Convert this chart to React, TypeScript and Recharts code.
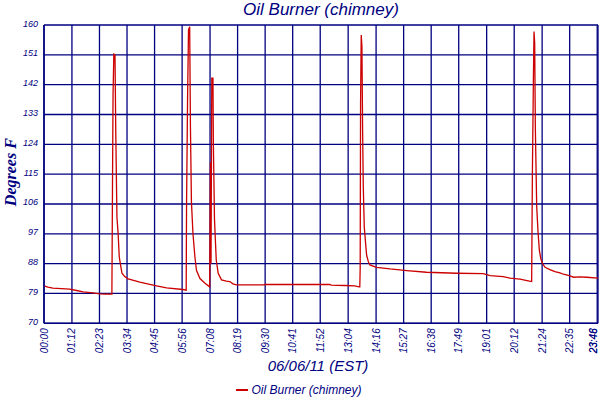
import React from 'react';
import { LineChart, Line, XAxis, YAxis, CartesianGrid, Legend } from 'recharts';

const chartTitle = 'Oil Burner (chimney)';
const xAxisTitle = '06/06/11 (EST)';
const yAxisTitle = 'Degrees F';
const seriesName = 'Oil Burner (chimney)';

// minutes since midnight
const times = [
  0, 10, 23, 66, 84, 101, 126, 144, 157, 175,
  176.5, 178, 180, 183, 185, 188, 191, 194, 198, 201, 208, 217, 247, 290, 316, 358, 366.5,
  367.5, 370, 372.5, 375.5, 377.5, 380, 384, 389, 393, 402, 415, 427,
  429, 430.5, 432.5, 435.5, 436.5, 439.5, 444, 449, 457.5, 470, 479, 487, 496, 565, 570, 608, 737, 740, 776, 801, 812, 814,
  815, 816, 817.7, 819.5, 821.2, 823, 825.5, 829, 831.5, 836, 840, 857, 892, 935, 986, 1064, 1132, 1150, 1184, 1201, 1227, 1248, 1257,
  1258.8, 1261.4, 1263.1, 1264.8, 1266.5, 1270, 1273.4, 1276.8, 1280.3, 1284.6, 1291.5, 1304, 1317, 1330, 1339, 1356, 1365, 1382, 1399, 1428,
];

// degrees F
const temps = [
  81.3, 80.9, 80.6, 80.3, 79.9, 79.5, 79.2, 78.9, 78.8, 78.8,
  110.4, 139, 151.2, 151, 127.5, 102, 97.2, 90, 87.1, 85.1, 84.1, 83.4, 82.4, 81.3, 80.7, 80.2, 80.0,
  106.7, 137, 158.5, 159.5, 128.9, 106.7, 97, 90, 86, 83.5, 82.1, 81.0,
  118.5, 88, 144, 144, 124.8, 101.2, 89.1, 85.1, 83.1, 82.7, 82.6, 81.9, 81.6, 81.6, 81.7, 81.7, 81.7, 81.5, 81.4, 81.3, 81.0, 81.0,
  86.6, 136.4, 157, 153.5, 128.9, 111.2, 99.1, 94.1, 90.6, 88.6, 87.6, 86.9, 86.4, 85.9, 85.4, 85.1, 85.0, 84.4, 84.1, 83.6, 83.3, 82.8, 82.6,
  114.2, 142.9, 158, 154.5, 128.9, 105.2, 97.6, 92.1, 89.6, 88.1, 86.9, 86.2, 85.6, 85.2, 84.8, 84.3, 83.9, 84.0, 83.9, 83.6,
];

const yTicks = [70, 79, 88, 97, 106, 115, 124, 133, 142, 151, 160];
const xTicks = [0, 72, 143, 214, 285, 356, 428, 499, 570, 641, 712, 784, 856, 927, 998, 1069, 1141, 1212, 1284, 1355, 1426, 1428];
const xTickLabels = [
  '00:00', '01:12', '02:23', '03:34', '04:45', '05:56', '07:08', '08:19', '09:30', '10:41', '11:52',
  '13:04', '14:16', '15:27', '16:38', '17:49', '19:01', '20:12', '21:24', '22:35', '23:46', '23:48',
];

const data = times.map((t, i) => ({ t, v: temps[i] }));

const NAVY = '#000080';
const RED = '#cc0000';
const SANS = '"Liberation Sans", Arial, sans-serif';

const XTick = (props: any) => {
  const { x, y, payload } = props;
  const idx = xTicks.indexOf(payload.value);
  const tx = Math.min(x, 593);
  return (
    <text
      x={0}
      y={0}
      transform={`translate(${tx},${y}) rotate(-90)`}
      textAnchor="end"
      dy={3.5}
      fontSize={10}
      fontStyle="italic"
      fill={NAVY}
      fontFamily={SANS}
    >
      {xTickLabels[idx]}
    </text>
  );
};

const YTick = (props: any) => {
  const { x, y, payload } = props;
  return (
    <text x={x} y={y} dy={1.5} textAnchor="end" fontSize={9} fontStyle="italic" fill={NAVY} fontFamily={SANS}>
      {payload.value}
    </text>
  );
};

const YLabel = (props: any) => {
  const vb = props.viewBox || {};
  const cx = vb.x + 16;
  const cy = vb.y + vb.height / 2 - 2;
  return (
    <text
      x={0}
      y={0}
      transform={`translate(${cx},${cy}) rotate(-90)`}
      textAnchor="middle"
      fontSize={16}
      fontWeight="bold"
      fontStyle="italic"
      fill={NAVY}
      fontFamily='"Liberation Serif", "Times New Roman", serif'
    >
      {yAxisTitle}
    </text>
  );
};

const XLabel = (props: any) => {
  const vb = props.viewBox || {};
  return (
    <text
      x={vb.x + vb.width / 2 - 3}
      y={vb.y + 47.5}
      textAnchor="middle"
      fontSize={15}
      fontStyle="italic"
      fill={NAVY}
      fontFamily={SANS}
    >
      {xAxisTitle}
    </text>
  );
};

const LegendContent = () => (
  <div
    style={{
      display: 'flex',
      justifyContent: 'center',
      alignItems: 'center',
      height: 20,
      fontFamily: SANS,
    }}
  >
    <svg width={15} height={10} style={{ display: 'block' }}>
      <line x1={0} y1={5} x2={12} y2={5} stroke={RED} strokeWidth={2} />
    </svg>
    <span style={{ fontStyle: 'italic', fontSize: 12, color: NAVY }}>{seriesName}</span>
  </div>
);

export default function App() {
  return (
    <div style={{ position: 'absolute', left: 0, top: 0, width: 600, height: 400, background: '#fff' }}>
      <div
        style={{
          position: 'absolute',
          left: 44,
          top: 0,
          width: 554,
          textAlign: 'center',
          fontFamily: SANS,
          fontStyle: 'italic',
          fontSize: 17,
          lineHeight: '20px',
          color: NAVY,
          zIndex: 1,
        }}
      >
        {chartTitle}
      </div>
      <LineChart width={600} height={400} data={data} margin={{ top: 25, right: 2, bottom: 0, left: 0 }}>
        <CartesianGrid stroke={NAVY} strokeWidth={1.3} />
        <XAxis
          dataKey="t"
          type="number"
          domain={[0, 1428]}
          ticks={xTicks}
          interval={0}
          tick={<XTick />}
          tickLine={false}
          tickSize={0}
          tickMargin={5}
          height={56.7}
          axisLine={{ stroke: NAVY, strokeWidth: 1.5 }}
          label={<XLabel />}
        />
        <YAxis
          type="number"
          domain={[70, 160]}
          ticks={yTicks}
          interval={0}
          tick={<YTick />}
          tickLine={false}
          tickSize={0}
          tickMargin={6}
          width={44}
          axisLine={{ stroke: NAVY, strokeWidth: 1.5 }}
          label={<YLabel />}
        />
        <Legend verticalAlign="bottom" height={20} content={<LegendContent />} />
        <Line
          type="linear"
          dataKey="v"
          name={seriesName}
          stroke={RED}
          strokeWidth={1.3}
          dot={false}
          isAnimationActive={false}
        />
      </LineChart>
    </div>
  );
}
